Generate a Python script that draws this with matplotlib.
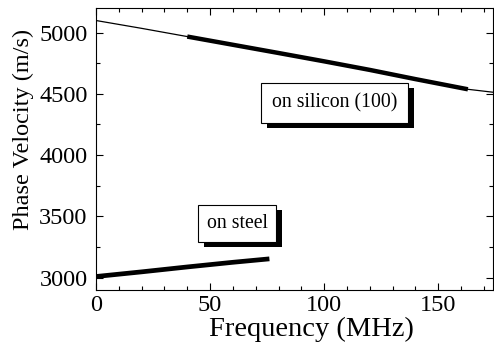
import matplotlib
matplotlib.use("Agg")
import matplotlib.pyplot as plt
import matplotlib.ticker as ticker
import matplotlib.patheffects as pe

plt.rcParams['font.family'] = ['Liberation Serif', 'DejaVu Serif']

# silicon (100): full dispersion curve (thin) and measured range (thick)
si_freq = [0, 20, 40, 60, 80, 100, 120, 140, 163, 174]
si_vel = [5098, 5034, 4967, 4900, 4833, 4765, 4695, 4620, 4537, 4513]
si_meas_lo, si_meas_hi = 40, 164

# steel: measured curve
steel_freq = [0, 20, 40, 60, 76]
steel_vel = [3010, 3048, 3088, 3126, 3154]

labels = ["on silicon (100)", "on steel"]
label_pos = [(104.5, 4425), (61.8, 3442)]
label_pad = [0.55, 0.45]

fig = plt.figure(figsize=(4.94, 3.53), dpi=100)
ax = fig.add_axes([96/494, 63/353, 397/494, 282/353])

ax.plot(si_freq, si_vel, color="k", lw=0.9)
sel = [(f, v) for f, v in zip(si_freq, si_vel) if si_meas_lo <= f <= si_meas_hi]
ax.plot([s[0] for s in sel], [s[1] for s in sel], color="k", lw=3.2, solid_capstyle="butt")
ax.plot(steel_freq, steel_vel, color="k", lw=3.4, solid_capstyle="butt")

# boxed labels with a solid drop shadow
for txt, (x, y), pad in zip(labels, label_pos, label_pad):
    t = ax.text(x, y, txt, ha="center", va="center", fontsize=14.2, color="k",
                bbox=dict(boxstyle="square,pad=%g" % pad, fc="white", ec="k", lw=0.8),
                zorder=5)
    t.get_bbox_patch().set_path_effects([
        pe.SimplePatchShadow(offset=(4.3, -3.6), shadow_rgbFace="k", alpha=1.0),
        pe.Normal()])

ax.set_xlim(0, 174)
ax.set_ylim(2900, 5200)
ax.xaxis.set_major_locator(ticker.MultipleLocator(50))
ax.xaxis.set_minor_locator(ticker.MultipleLocator(10))
ax.yaxis.set_major_locator(ticker.MultipleLocator(500))
ax.yaxis.set_minor_locator(ticker.MultipleLocator(250))
ax.tick_params(which="both", direction="in", top=True, right=True, labelsize=17.5)
ax.tick_params(which="major", length=5, width=0.8)
ax.tick_params(which="minor", length=3, width=0.8)
ax.tick_params(axis="y", pad=6)
ax.set_xlabel("Frequency (MHz)", fontsize=20.5, labelpad=1)
ax.set_ylabel("Phase Velocity (m/s)", fontsize=17.5, labelpad=4)
ax.xaxis.label.set_x(0.5416)
ax.yaxis.label.set_y(0.571)

fig.savefig("out.png", dpi=100)
